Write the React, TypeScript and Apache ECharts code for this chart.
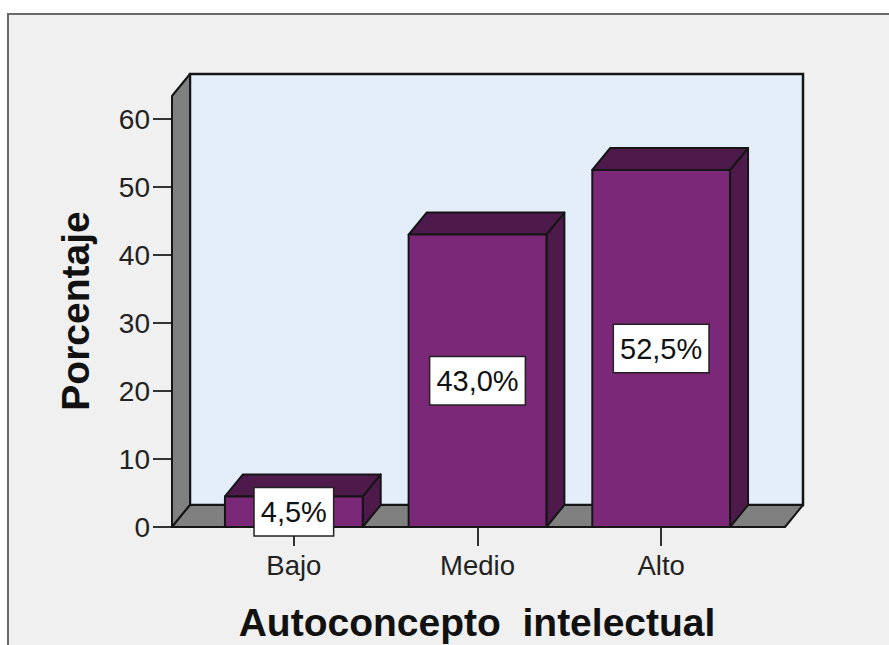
import React, { useEffect, useRef } from 'react';
import * as echarts from 'echarts';

const CATEGORIES = ['Bajo', 'Medio', 'Alto'];
const PERCENTAGES = [4.5, 43.0, 52.5];
const Y_MIN = 0;
const Y_MAX = 60;
const Y_INTERVAL = 10;
const X_TITLE = 'Autoconcepto  intelectual';
const Y_TITLE = 'Porcentaje';

const FONT = '"Liberation Sans", Arial, Helvetica, sans-serif';
const DX = 18;
const DY = -22;
const BAR_FRONT = '#7c2878';
const BAR_DARK = '#4e1a4c';
const WALL = '#e3eefa';
const GREY = '#808080';
const STROKE = '#151515';

function fmt(v: number): string {
  return v.toFixed(1).replace('.', ',') + '%';
}

export default function App() {
  const ref = useRef<HTMLDivElement | null>(null);

  useEffect(() => {
    if (!ref.current) return;
    const chart = echarts.init(ref.current, undefined, { renderer: 'svg' });

    const barData = CATEGORIES.map((c, i) => [i, PERCENTAGES[i]]);

    const option: any = {
      animation: false,
      backgroundColor: '#ffffff',
      grid: { left: 202, top: 119, width: 551, height: 408, show: false },
      graphic: [
        {
          type: 'rect',
          z: -10,
          shape: { x: 8, y: 14, width: 1000, height: 1000 },
          style: { fill: '#f0f0f0', stroke: '#6a6a6a', lineWidth: 2 },
        },
        {
          type: 'text',
          x: 75,
          y: 311,
          rotation: Math.PI / 2,
          style: {
            text: Y_TITLE,
            fontSize: 39,
            fontWeight: 'bold',
            fontFamily: FONT,
            fill: '#111',
            align: 'center',
            verticalAlign: 'middle',
          },
        },
        {
          type: 'text',
          x: 477,
          y: 622,
          style: {
            text: X_TITLE,
            fontSize: 39,
            fontWeight: 'bold',
            fontFamily: FONT,
            fill: '#111',
            align: 'center',
            verticalAlign: 'middle',
          },
        },
      ],
      xAxis: {
        type: 'category',
        data: CATEGORIES,
        boundaryGap: true,
        axisLine: { show: false },
        axisTick: { show: true, alignWithLabel: true, length: 19, lineStyle: { color: '#333', width: 2 } },
        axisLabel: { margin: 24, fontSize: 27.5, color: '#222', fontFamily: FONT },
        splitLine: { show: false },
      },
      yAxis: {
        type: 'value',
        min: Y_MIN,
        max: Y_MAX,
        interval: Y_INTERVAL,
        offset: 30,
        axisLine: { show: false },
        axisTick: { show: true, length: 19, lineStyle: { color: '#333', width: 2 } },
        axisLabel: { margin: 22, fontSize: 28, color: '#222', fontFamily: FONT, padding: [10, 0, 0, 0] },
        splitLine: { show: false },
      },
      series: [
        {
          type: 'custom',
          name: 'frame',
          data: [[0, 0]],
          silent: true,
          renderItem: (params: any, api: any) => {
            const cs = params.coordSys;
            const base = api.coord([0, 0])[1];
            const x0 = cs.x - 30;
            const x1 = cs.x + cs.width + 32;
            const yTop = cs.y - 23;
            return {
              type: 'group',
              children: [
                {
                  type: 'rect',
                  shape: { x: x0 + DX, y: yTop + DY, width: x1 - x0, height: base - yTop },
                  style: { fill: WALL, stroke: STROKE, lineWidth: 2.5 },
                },
                {
                  type: 'polygon',
                  shape: { points: [[x0, yTop], [x0 + DX, yTop + DY], [x0 + DX, base + DY], [x0, base]] },
                  style: { fill: GREY, stroke: STROKE, lineWidth: 2, lineJoin: 'round' },
                },
                {
                  type: 'polygon',
                  shape: { points: [[x0, base], [x1, base], [x1 + DX, base + DY], [x0 + DX, base + DY]] },
                  style: { fill: GREY, stroke: STROKE, lineWidth: 2, lineJoin: 'round' },
                },
              ],
            };
          },
        },
        {
          type: 'custom',
          name: 'Porcentaje',
          data: barData,
          encode: { x: 0, y: 1 },
          renderItem: (params: any, api: any) => {
            const idx = api.value(0);
            const v = api.value(1);
            const top = api.coord([idx, v]);
            const base = api.coord([idx, 0]);
            const bw = api.size([1, 0])[0] * 0.75;
            const l = top[0] - bw / 2;
            const r = l + bw;
            const t = top[1];
            const b = base[1];
            const st = { stroke: STROKE, lineWidth: 2, lineJoin: 'round' };
            return {
              type: 'group',
              children: [
                {
                  type: 'polygon',
                  shape: { points: [[r, t], [r + DX, t + DY], [r + DX, b + DY], [r, b]] },
                  style: { fill: BAR_DARK, ...st },
                },
                {
                  type: 'polygon',
                  shape: { points: [[l, t], [l + DX, t + DY], [r + DX, t + DY], [r, t]] },
                  style: { fill: BAR_DARK, ...st },
                },
                {
                  type: 'rect',
                  shape: { x: l, y: t, width: bw, height: b - t },
                  style: { fill: BAR_FRONT, ...st },
                },
                {
                  type: 'text',
                  x: top[0],
                  y: (t + b) / 2,
                  style: {
                    text: fmt(v),
                    fontSize: 29,
                    fontFamily: FONT,
                    fill: '#111',
                    align: 'center',
                    verticalAlign: 'middle',
                    backgroundColor: '#ffffff',
                    borderColor: '#222',
                    borderWidth: 1.5,
                    padding: [7, 6, 7, 6],
                    lineHeight: 33,
                  },
                },
              ],
            };
          },
        },
      ],
    };

    chart.setOption(option);
    return () => {
      chart.dispose();
    };
  }, []);

  return (
    <div
      ref={ref}
      style={{ position: 'fixed', left: 0, top: 0, width: 889, height: 645 }}
    />
  );
}
